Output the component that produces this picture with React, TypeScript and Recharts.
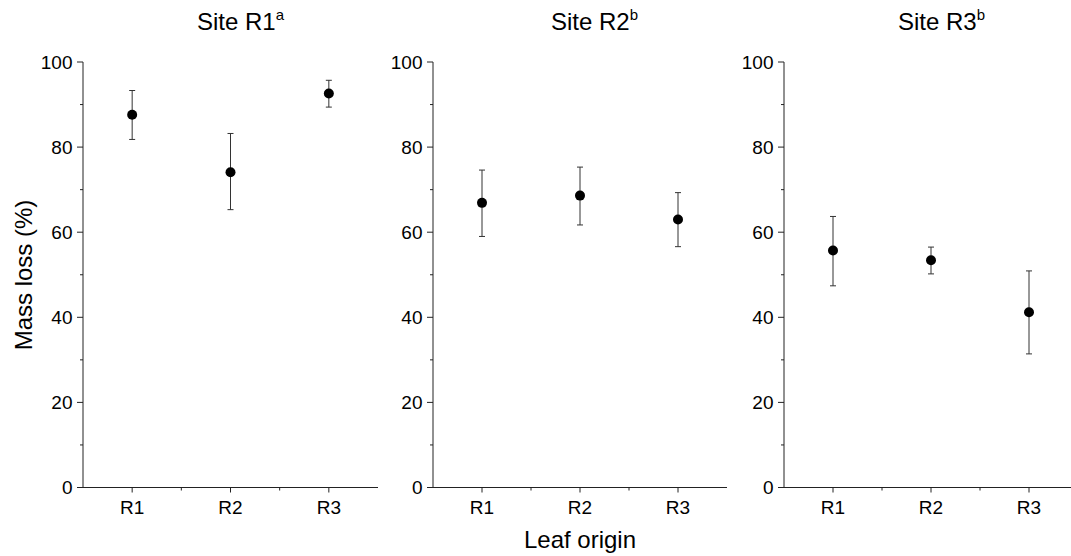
import { ErrorBar, Scatter, ScatterChart, XAxis, YAxis } from 'recharts';

const categories = ['R1', 'R2', 'R3'];
const siteNames = ['Site R1', 'Site R2', 'Site R3'];
const siteLetters = ['a', 'b', 'b'];

const site1Mean = [87.6, 74.1, 92.6];
const site1Upper = [93.3, 83.2, 95.7];
const site1Lower = [81.8, 65.3, 89.4];

const site2Mean = [66.9, 68.6, 63.0];
const site2Upper = [74.6, 75.3, 69.3];
const site2Lower = [59.0, 61.7, 56.6];

const site3Mean = [55.7, 53.4, 41.2];
const site3Upper = [63.7, 56.5, 50.9];
const site3Lower = [47.4, 50.2, 31.4];

const xTicks = [1, 1.5, 2, 2.5, 3];
const yTicks = [0, 10, 20, 30, 40, 50, 60, 70, 80, 90, 100];

const FONT = '"Liberation Sans", Arial, sans-serif';
const AXIS = '#222';

const buildRows = (mean: number[], upper: number[], lower: number[]) =>
  categories.map((c, i) => ({
    x: i + 1,
    label: c,
    y: mean[i],
    err: [mean[i] - lower[i], upper[i] - mean[i]],
  }));

const panels = [
  { rows: buildRows(site1Mean, site1Upper, site1Lower), left: 0, width: 390, ml: 43, mr: 12, titleX: 197 },
  { rows: buildRows(site2Mean, site2Upper, site2Lower), left: 390, width: 345, ml: 3, mr: 8, titleX: 551 },
  { rows: buildRows(site3Mean, site3Upper, site3Lower), left: 735, width: 345, ml: 9, mr: 2, titleX: 898 },
];

const XTick = (props: any) => {
  const { x, y, payload } = props;
  const v = payload.value;
  const major = Number.isInteger(v);
  return (
    <g>
      <line x1={x} x2={x} y1={y} y2={y + (major ? 5 : 3)} stroke={AXIS} strokeWidth={1} />
      {major && (
        <text x={x} y={y + 26} textAnchor="middle" fontSize={19} fontFamily={FONT} fill="#000">
          {categories[v - 1]}
        </text>
      )}
    </g>
  );
};

const YTick = (props: any) => {
  const { x, y, payload } = props;
  const v = payload.value;
  const major = v % 20 === 0;
  return (
    <g>
      <line x1={x - (major ? 6 : 3)} x2={x} y1={y} y2={y} stroke={AXIS} strokeWidth={1} />
      {major && (
        <text x={x - 10.5} y={y} dy="0.355em" textAnchor="end" fontSize={19} fontFamily={FONT} fill="#000">
          {v}
        </text>
      )}
    </g>
  );
};

const Dot = (props: any) => <circle cx={props.cx} cy={props.cy} r={5} fill="#000" />;

export default function App() {
  return (
    <div
      style={{
        position: 'absolute',
        left: 0,
        top: 0,
        width: 1071,
        height: 556,
        overflow: 'hidden',
        background: '#fff',
        fontFamily: FONT,
      }}
    >
      {panels.map((p, i) => (
        <div key={i} style={{ position: 'absolute', left: p.left, top: 0 }}>
          <ScatterChart
            width={p.width}
            height={556}
            margin={{ top: 62, bottom: 38.5, left: p.ml, right: p.mr }}
          >
            <XAxis
              type="number"
              dataKey="x"
              domain={[0.5, 3.5]}
              ticks={xTicks}
              interval={0}
              tick={<XTick />}
              tickLine={false}
              tickSize={0}
              tickMargin={0}
              height={30}
              stroke={AXIS}
            />
            <YAxis
              type="number"
              dataKey="y"
              domain={[0, 100]}
              ticks={yTicks}
              interval={0}
              tick={<YTick />}
              tickLine={false}
              tickSize={0}
              tickMargin={0}
              width={40}
              stroke={AXIS}
            />
            <Scatter data={p.rows} shape={<Dot />} isAnimationActive={false}>
              <ErrorBar dataKey="err" direction="y" width={3} stroke="#333" strokeWidth={1} />
            </Scatter>
          </ScatterChart>
        </div>
      ))}
      {panels.map((p, i) => (
        <div
          key={'t' + i}
          style={{
            position: 'absolute',
            left: p.titleX,
            top: 8,
            fontSize: 24,
            lineHeight: '28px',
            whiteSpace: 'nowrap',
            color: '#000',
          }}
        >
          {siteNames[i]}
          <sup style={{ fontSize: 15, verticalAlign: 'top', lineHeight: '18px', position: 'relative', top: -2 }}>
            {siteLetters[i]}
          </sup>
        </div>
      ))}
      <div
        style={{
          position: 'absolute',
          left: 24,
          top: 275,
          transform: 'translate(-50%, -50%) rotate(-90deg)',
          fontSize: 24,
          whiteSpace: 'nowrap',
          color: '#000',
        }}
      >
        Mass loss (%)
      </div>
      <div
        style={{
          position: 'absolute',
          left: 580,
          top: 526,
          transform: 'translateX(-50%)',
          fontSize: 24,
          lineHeight: '28px',
          whiteSpace: 'nowrap',
          color: '#000',
        }}
      >
        Leaf origin
      </div>
    </div>
  );
}
